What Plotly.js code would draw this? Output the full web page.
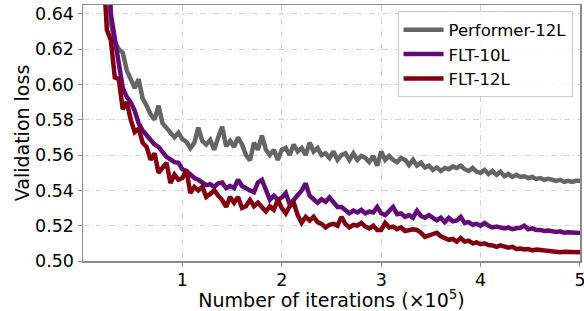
<!DOCTYPE html>
<html>
<head>
<meta charset="utf-8">
<script src="https://cdn.plot.ly/plotly-3.0.1.min.js"></script>
<style>html,body{margin:0;padding:0;background:#fff;}#chart{width:584px;height:311px;}</style>
</head>
<body>
<div id="chart"></div>
<script>
// iterations (x 10^5)
const iterations = [
  0.20,0.24,0.28,0.32,0.36,0.40,0.44,0.48,0.52,0.56,
  0.60,0.64,0.68,0.72,0.76,0.80,0.84,0.88,0.92,0.96,
  1.00,1.04,1.08,1.12,1.16,1.20,1.24,1.28,1.32,1.36,
  1.40,1.44,1.48,1.52,1.56,1.60,1.64,1.68,1.72,1.76,
  1.80,1.84,1.88,1.92,1.96,2.00,2.04,2.08,2.12,2.16,
  2.20,2.24,2.28,2.32,2.36,2.40,2.44,2.48,2.52,2.56,
  2.60,2.64,2.68,2.72,2.76,2.80,2.84,2.88,2.92,2.96,
  3.00,3.04,3.08,3.12,3.16,3.20,3.24,3.28,3.32,3.36,
  3.40,3.44,3.48,3.52,3.56,3.60,3.64,3.68,3.72,3.76,
  3.80,3.84,3.88,3.92,3.96,4.00,4.04,4.08,4.12,4.16,
  4.20,4.24,4.28,4.32,4.36,4.40,4.44,4.48,4.52,4.56,
  4.60,4.64,4.68,4.72,4.76,4.80,4.84,4.88,4.92,4.96,
  5.00
];

const performer12L = [
  0.72,0.68,0.635,0.624,0.620,0.618,0.608,0.603,0.598,0.603,
  0.592,0.588,0.583,0.580,0.588,0.578,0.5755,0.5726,0.570,0.5726,
  0.569,0.5675,0.564,0.567,0.5755,0.568,0.566,0.5686,0.563,0.570,
  0.576,0.565,0.568,0.5646,0.570,0.566,0.560,0.557,0.567,0.563,
  0.571,0.563,0.560,0.563,0.5573,0.563,0.564,0.560,0.566,0.562,
  0.564,0.560,0.567,0.562,0.564,0.560,0.561,0.5584,0.562,0.5573,
  0.560,0.561,0.5573,0.561,0.5573,0.5595,0.5584,0.556,0.5595,0.554,
  0.562,0.5573,0.5595,0.5573,0.556,0.5584,0.5573,0.5544,0.5573,0.554,
  0.5556,0.553,0.554,0.5516,0.553,0.551,0.5527,0.552,0.5535,0.5527,
  0.554,0.552,0.551,0.5527,0.5505,0.5499,0.5516,0.5493,0.551,0.5488,
  0.5505,0.548,0.5493,0.5476,0.5488,0.5476,0.548,0.547,0.5476,0.5465,
  0.547,0.546,0.5465,0.546,0.5454,0.546,0.5448,0.5454,0.5448,0.5454,
  0.5454
];

const flt10L = [
  0.72,0.70,0.64,0.626,0.615,0.598,0.593,0.590,0.585,0.578,
  0.574,0.571,0.5686,0.566,0.5646,0.562,0.559,0.5575,0.556,0.5556,
  0.552,0.551,0.549,0.547,0.546,0.5445,0.543,0.5435,0.542,0.544,
  0.5445,0.5413,0.5425,0.5413,0.546,0.5425,0.541,0.540,0.539,0.5445,
  0.546,0.540,0.5346,0.537,0.5346,0.536,0.5385,0.532,0.5345,0.537,
  0.540,0.544,0.537,0.535,0.533,0.535,0.5335,0.536,0.5330,0.5306,
  0.5306,0.529,0.527,0.5285,0.5275,0.529,0.527,0.528,0.5275,0.5306,
  0.527,0.526,0.5285,0.5306,0.5265,0.527,0.525,0.526,0.5245,0.5284,
  0.5255,0.5245,0.526,0.5244,0.523,0.5245,0.522,0.5244,0.5225,0.523,
  0.525,0.5215,0.522,0.5205,0.521,0.520,0.5215,0.520,0.519,0.5195,
  0.519,0.5185,0.519,0.518,0.5185,0.5188,0.520,0.518,0.5185,0.5176,
  0.5176,0.517,0.5172,0.5168,0.5165,0.5168,0.516,0.5163,0.516,0.5159,
  0.5159
];

const flt12L = [
  0.67,0.631,0.625,0.604,0.603,0.586,0.590,0.580,0.573,0.575,
  0.567,0.5646,0.5573,0.561,0.550,0.553,0.5556,0.5442,0.549,0.546,
  0.547,0.5516,0.5385,0.542,0.540,0.542,0.5363,0.538,0.540,0.537,
  0.5345,0.5306,0.5363,0.533,0.5363,0.530,0.531,0.5346,0.531,0.533,
  0.5306,0.528,0.531,0.529,0.5346,0.530,0.527,0.531,0.533,0.526,
  0.5216,0.525,0.523,0.525,0.522,0.521,0.519,0.5205,0.521,0.520,
  0.525,0.521,0.519,0.5205,0.520,0.5216,0.5195,0.5185,0.520,0.5176,
  0.5176,0.5216,0.519,0.5195,0.518,0.519,0.517,0.5175,0.518,0.5176,
  0.516,0.5136,0.5145,0.5155,0.516,0.514,0.513,0.512,0.5125,0.511,
  0.513,0.511,0.5115,0.510,0.5105,0.5095,0.510,0.509,0.5088,0.508,
  0.5088,0.508,0.5075,0.508,0.5068,0.507,0.5065,0.5068,0.506,0.5065,
  0.5062,0.5058,0.506,0.5055,0.5055,0.505,0.5052,0.505,0.505,0.505,
  0.505
];

const seriesNames = ["Performer-12L", "FLT-10L", "FLT-12L"];
const seriesColors = ["#656565", "#640a78", "#800012"];
const seriesValues = [performer12L, flt10L, flt12L];

const xTicks = [1, 2, 3, 4, 5];
const yTicks = [0.50, 0.52, 0.54, 0.56, 0.58, 0.60, 0.62, 0.64];

const font = "DejaVu Sans, sans-serif";

const traces = seriesNames.map((name, i) => ({
  x: iterations,
  y: seriesValues[i],
  name: name,
  legendgroup: "g" + i,
  type: "scatter",
  mode: "lines",
  line: {color: seriesColors[i], width: 4.5}
}));

const axisCommon = {
  showline: true,
  linecolor: "#8a8a8a",
  linewidth: 1.5,
  mirror: true,
  ticks: "outside",
  ticklen: 4,
  tickwidth: 1,
  tickcolor: "#8a8a8a",
  showgrid: true,
  gridcolor: "#d3d3d3",
  gridwidth: 1,
  griddash: "6px,3px,1px,3px",
  zeroline: false,
  ticklabeloverflow: "allow",
  tickfont: {family: font, size: 17.5, color: "#000"}
};

const layout = {
  width: 584,
  height: 311,
  margin: {l: 83, r: 4, t: 5, b: 50},
  paper_bgcolor: "#fff",
  plot_bgcolor: "#fff",
  showlegend: true,
  legend: {
    x: 0.985, y: 0.975, xanchor: "right", yanchor: "top",
    bgcolor: "rgba(255,255,255,0.85)",
    bordercolor: "#cccccc",
    borderwidth: 1,
    itemwidth: 40,
    font: {family: font, size: 16.5, color: "#000"},
    tracegroupgap: 0
  },
  xaxis: Object.assign({}, axisCommon, {
    range: [0, 5.0001],
    tickvals: xTicks,
    ticktext: xTicks.map(String),
    ticklabelstandoff: -2,
    title: {text: "Number of iterations (×10<sup>5</sup>)", font: {family: font, size: 19, color: "#000"}, standoff: 8}
  }),
  yaxis: Object.assign({}, axisCommon, {
    range: [0.50, 0.645],
    tickvals: yTicks,
    tickformat: ".2f",
    title: {text: "Validation loss", font: {family: font, size: 19, color: "#000"}, standoff: 0}
  })
};

Plotly.newPlot("chart", traces, layout, {displayModeBar: false, staticPlot: true});
</script>
</body>
</html>
